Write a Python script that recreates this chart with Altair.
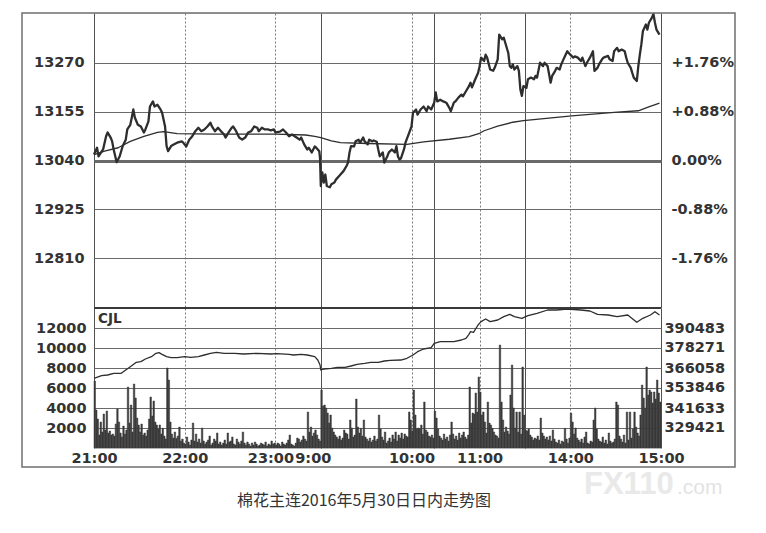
import altair as alt
import pandas as pd

# ---------------- data ----------------
# minute index: 0 = 21:00, 150 = 9:00 (night session ends 23:30), 225 = 10:15/10:30, 285 = 11:30/13:30, 375 = 15:00
price_points = [
    (0, 13054), (2, 13070), (3, 13050), (6, 13066), (8, 13097), (9, 13106), (11, 13094), (12, 13085),
    (13, 13066), (15, 13036), (17, 13050), (19, 13074), (21, 13089), (22, 13113), (24, 13124), (25, 13141),
    (26, 13160), (27, 13141), (29, 13124), (31, 13120), (33, 13106), (34, 13113), (36, 13132), (37, 13167),
    (39, 13179), (40, 13167), (42, 13171), (44, 13160), (45, 13153), (47, 13120), (48, 13074), (49, 13062),
    (51, 13074), (53, 13078), (55, 13082), (58, 13085), (59, 13082), (61, 13073), (63, 13089), (65, 13097),
    (67, 13109), (69, 13117), (71, 13109), (73, 13113), (75, 13120), (77, 13129), (78, 13120), (80, 13109),
    (82, 13117), (84, 13109), (86, 13101), (87, 13094), (89, 13106), (91, 13117), (92, 13120), (94, 13109),
    (96, 13094), (98, 13089), (100, 13094), (102, 13106), (104, 13109), (106, 13120), (108, 13117), (109, 13109),
    (111, 13117), (113, 13113), (115, 13113), (117, 13111), (119, 13113), (120, 13106), (123, 13108), (125, 13113),
    (127, 13106), (129, 13097), (131, 13101), (134, 13094), (136, 13089), (137, 13094), (139, 13078), (141, 13066),
    (142, 13070), (144, 13059), (146, 13073), (147, 13070), (149, 13062), (149.5, 13045), (150, 12980), (151, 13012),
    (152, 12988), (153, 13007), (154, 12980), (156, 12977), (157, 12984), (159, 12988), (160, 12995), (162, 13003),
    (163, 13007), (165, 13015), (167, 13027), (168, 13035), (169, 13059), (170, 13074), (172, 13073), (173, 13085),
    (175, 13089), (176, 13082), (178, 13094), (179, 13085), (181, 13078), (182, 13089), (184, 13085), (185, 13087),
    (187, 13084), (188, 13066), (189, 13050), (191, 13059), (192, 13035), (194, 13050), (195, 13059), (197, 13066),
    (199, 13059), (200, 13074), (201, 13050), (202, 13042), (203, 13045), (205, 13066), (206, 13082), (208, 13101),
    (210, 13120), (211, 13153), (213, 13160), (214, 13148), (216, 13160), (218, 13167), (220, 13156), (221, 13167),
    (223, 13160), (225, 13176), (226, 13200), (227, 13179), (229, 13183), (231, 13179), (233, 13176), (235, 13164),
    (236, 13156), (238, 13176), (239, 13179), (241, 13188), (243, 13195), (244, 13191), (246, 13203), (248, 13215),
    (249, 13223), (250, 13212), (252, 13230), (254, 13246), (255, 13261), (256, 13282), (258, 13274), (259, 13289),
    (260, 13282), (262, 13254), (264, 13251), (265, 13258), (267, 13278), (268, 13336), (270, 13325), (271, 13329),
    (272, 13317), (274, 13293), (275, 13262), (276, 13258), (277, 13266), (278, 13254), (280, 13262), (281, 13251),
    (282, 13207), (283, 13192), (284, 13215), (286, 13211), (287, 13231), (289, 13235), (291, 13231), (292, 13239),
    (293, 13235), (295, 13270), (297, 13262), (298, 13270), (300, 13262), (301, 13243), (302, 13223), (303, 13239),
    (305, 13251), (306, 13258), (308, 13254), (309, 13266), (311, 13282), (313, 13297), (315, 13289), (317, 13282),
    (318, 13285), (320, 13282), (322, 13274), (323, 13282), (325, 13262), (326, 13270), (328, 13282), (330, 13297),
    (331, 13251), (333, 13258), (334, 13266), (336, 13278), (337, 13282), (340, 13286), (341, 13278), (343, 13274),
    (344, 13297), (346, 13305), (347, 13297), (349, 13301), (351, 13297), (352, 13282), (353, 13270), (355, 13258),
    (356, 13246), (357, 13235), (359, 13227), (360, 13262), (361, 13289), (362, 13313), (363, 13344), (365, 13360),
    (366, 13348), (367, 13364), (369, 13376), (370, 13385), (371, 13364), (372, 13348), (374, 13336),
]

avg_points = [
    (0, 13054), (7, 13062), (16, 13070), (24, 13085), (33, 13097), (42, 13106), (46, 13108), (55, 13103),
    (80, 13102), (120, 13102), (140, 13100), (146, 13097), (150, 13094), (157, 13086), (163, 13082),
    (181, 13080), (207, 13078), (218, 13084), (235, 13090), (248, 13096), (255, 13104), (258, 13110),
    (267, 13121), (277, 13130), (284, 13134), (316, 13145), (344, 13153), (360, 13157), (366, 13165),
    (374, 13175),
]

oi_points = [
    (0, 359750), (5, 361375), (9, 361784), (13, 362803), (18, 362803), (21, 364837), (24, 366871),
    (28, 369521), (31, 369924), (34, 371554), (38, 372977), (41, 375017), (43, 375420), (45, 374406),
    (48, 372977), (51, 372366), (55, 372366), (60, 372977), (64, 372574), (69, 372977), (73, 373996),
    (77, 375017), (81, 375627), (86, 375017), (93, 375017), (99, 374608), (108, 375017), (117, 374608),
    (121, 374810), (129, 374406), (132, 373996), (137, 374406), (141, 373996), (146, 372977), (148, 370943),
    (149.5, 367889), (150, 364837), (152, 365447), (157, 365856), (161, 366467), (166, 366467), (170, 367279),
    (174, 368299), (179, 368910), (183, 369521), (188, 369521), (192, 370332), (196, 370741), (203, 370943),
    (207, 372000), (211, 373996), (214, 376030), (218, 377660), (223, 378473), (225, 381123), (229, 382136),
    (234, 382136), (238, 382136), (243, 383156), (246, 384176), (248, 386618), (249, 388243), (251, 387840),
    (254, 392315), (256, 394349), (259, 395979), (262, 394349), (267, 395368), (271, 397402), (275, 398831),
    (278, 397402), (283, 396388), (287, 398012), (293, 399441), (300, 401474), (306, 401474), (313, 402085),
    (322, 401474), (328, 400863), (333, 398831), (340, 398421), (346, 397402), (353, 398421), (359, 393946),
    (363, 396388), (368, 398421), (371, 400458), (374, 398421),
]

# one bar per minute, 375 minutes
volume = [
    6700, 3800, 2900, 1300, 2600, 1600, 3400, 1800, 3700, 1500, 1700, 1300, 1400, 1200, 2400,
    3900, 2600, 1500, 1100, 2200, 1400, 1800, 6100, 2500, 4300, 1600, 6400, 5000, 3000, 2300,
    1600, 2400, 1300, 1500, 1200, 1800, 2900, 5100, 3200, 4700, 2600, 2300, 1900, 2300, 1400,
    1970, 1200, 900, 8000, 6800, 2600, 1400, 1000, 1600, 970, 1200, 2100, 700, 900, 500,
    400, 1100, 600, 300, 800, 2500, 700, 1400, 600, 900, 500, 2000, 700, 400, 600,
    800, 1200, 300, 500, 900, 700, 1500, 400, 600, 300, 500, 800, 400, 1500, 600,
    700, 1100, 400, 300, 900, 600, 400, 700, 1600, 500, 300, 600, 400, 200, 500,
    300, 600, 400, 200, 300, 500, 400, 300, 600, 200, 400, 300, 700, 400, 500,
    300, 500, 400, 200, 600, 400, 300, 500, 800, 1300, 400, 300, 200, 500, 1000,
    900, 600, 800, 1200, 900, 700, 3600, 1600, 2100, 1200, 1500, 1800, 1300, 900, 700,
    5800, 4200, 4300, 4000, 3500, 2500, 3300, 2000, 1600, 1300, 1100, 900, 1200, 800, 1000,
    1800, 1500, 1400, 900, 2800, 2000, 1100, 1300, 4900, 2100, 1500, 1970, 1200, 2800, 1100,
    900, 700, 1000, 600, 800, 1200, 700, 900, 3300, 1900, 1100, 800, 1600, 500, 700,
    1000, 600, 1300, 900, 1600, 700, 1300, 1000, 1500, 900, 1400, 1200, 1100, 3600, 2800,
    1700, 5800, 3300, 1900, 2000, 1900, 2300, 1400, 4600, 1800, 1600, 1200, 1100, 1300, 1000,
    3700, 3000, 1900, 1200, 1000, 800, 1400, 900, 1100, 700, 1300, 2600, 1400, 900, 1200,
    800, 1500, 1000, 1300, 1600, 1100, 900, 1300, 6100, 2500, 3500, 3400, 5500, 3600, 7100,
    5600, 3300, 3600, 2600, 1500, 4600, 2500, 2300, 1970, 1600, 1300, 1200, 1000, 10300, 4600,
    2800, 1600, 2100, 1700, 1400, 5300, 8300, 4000, 2000, 3600, 1600, 3600, 1400, 8100, 3300,
    1800, 1700, 1900, 1300, 1100, 800, 1000, 900, 1200, 800, 3000, 1500, 1200, 900, 1100,
    800, 1200, 700, 1800, 900, 600, 500, 800, 400, 700, 600, 1970, 900, 500, 1000,
    3500, 2600, 1400, 2000, 1000, 800, 600, 900, 500, 1100, 1600, 500, 400, 700, 600,
    2800, 4000, 1900, 900, 700, 600, 1100, 500, 800, 400, 1500, 700, 500, 600, 900,
    4600, 4300, 1200, 900, 600, 1300, 500, 3600, 800, 3600, 1000, 1900, 3600, 2100, 1500,
    1200, 3300, 6300, 5000, 4000, 8100, 5300, 5800, 5600, 4500, 5600, 4900, 6800, 5500, 4600,
]

time_ticks = [0, 60, 120, 150, 210, 225, 255, 285, 315, 375]
time_labels = ["21:00", "22:00", "23:00", "9:00", "10:00", "", "11:00", "", "14:00", "15:00"]
dotted_ticks = [60, 120, 210, 255, 315]
price_ticks = [12810, 12925, 13040, 13155, 13270]
base_price = 13040
price_domain = [12693, 13387]
vol_ticks = [2000, 4000, 6000, 8000, 10000, 12000]
vol_domain = [0, 14000]
oi_ticks = [329421, 341633, 353846, 366058, 378271, 390483]
oi_domain = [317208, 402696]
panel_label = "CJL"
title_text = "棉花主连2016年5月30日日内走势图"
watermark_big = "FX110"
watermark_small = ".com"

# ---------------- styling ----------------
W, H1, H2 = 567, 295, 140
FONT = "DejaVu Sans"
TXT = "#333333"
LINE = "#2e2e2e"
GRID = "#6a6a6a"
LFS = 14.5

price_df = pd.DataFrame(price_points, columns=["t", "p"])
avg_df = pd.DataFrame(avg_points, columns=["t", "a"])
oi_df = pd.DataFrame(oi_points, columns=["t", "oi"])
vol_df = pd.DataFrame({"t": list(range(len(volume))), "v": volume})

dotted_test = "indexof([" + ",".join(str(d) for d in dotted_ticks) + "], datum.value) >= 0"
grid_dash = {"condition": {"test": dotted_test, "value": [2, 2]}, "value": []}
grid_col = {"condition": {"test": dotted_test, "value": "#7a7a7a"}, "value": "#505050"}

label_expr = " : ".join(
    f"datum.value == {t} ? '{l}'" for t, l in zip(time_ticks, time_labels)
) + " : ''"

pct_expr = (
    f"datum.value == {base_price} ? '0.00%' : "
    f"(datum.value > {base_price} ? '+' : '-') + "
    f"format(abs(datum.value - {base_price}) / {base_price} * 100, '.2f') + '%'"
)

x_scale = alt.Scale(domain=[0, 375], nice=False, zero=False)

lab = dict(labelFont=FONT, labelFontSize=LFS, labelFontWeight="bold", labelColor=TXT)

x_upper = alt.X(
    "t:Q", scale=x_scale,
    axis=alt.Axis(values=time_ticks, labels=False, ticks=False, domain=False, title=None,
                  grid=True, gridDash=grid_dash, gridColor=grid_col, gridWidth=1,
                  minExtent=0, maxExtent=0),
)

x_lower = alt.X(
    "t:Q", scale=x_scale,
    axis=alt.Axis(values=time_ticks, labelExpr=label_expr, labelFlush=False, labelOverlap=False,
                  ticks=False, domain=False, title=None, grid=True, gridDash=grid_dash,
                  gridColor=grid_col, gridWidth=1, labelPadding=3,
                  labelOffset={"condition": [{"test": "datum.value == 120", "value": -5},
                                             {"test": "datum.value == 150", "value": -8}],
                               "value": 0},
                  **lab),
)

# ---------------- upper panel ----------------
price_line = alt.Chart(price_df).mark_line(color=LINE, strokeWidth=2.3, strokeJoin="round").encode(
    x=x_upper,
    y=alt.Y("p:Q", scale=alt.Scale(domain=price_domain, nice=False, zero=False),
            axis=alt.Axis(values=price_ticks, format="d", grid=True, gridColor=GRID,
                          gridWidth={"condition": {"test": f"datum.value == {base_price}", "value": 3},
                                     "value": 1},
                          ticks=False, domain=False, title=None, labelPadding=10,
                          minExtent=80, maxExtent=80, **lab)),
)

avg_line = alt.Chart(avg_df).mark_line(color=LINE, strokeWidth=1.3, strokeJoin="round").encode(
    x=x_upper,
    y=alt.Y("a:Q", scale=alt.Scale(domain=price_domain, nice=False, zero=False),
            axis=alt.Axis(orient="right", values=price_ticks, labelExpr=pct_expr, grid=False,
                          ticks=False, domain=False, title=None, labelPadding=10,
                          minExtent=80, maxExtent=80, **lab)),
)

frame = alt.Chart(alt.Data(values=[{}])).mark_rect(
    filled=False, stroke="#6f6f6f", strokeWidth=1.5
).encode(x=alt.value(-72), x2=alt.value(641), y=alt.value(0), y2=alt.value(454))

upper = alt.layer(price_line, avg_line, frame).resolve_scale(y="independent").properties(
    width=W, height=H1
)

# ---------------- lower panel ----------------
bars = alt.Chart(vol_df).transform_calculate(t2="datum.t + 1").mark_bar(
    color="#3a3a3a", stroke="#3a3a3a", strokeWidth=0.5
).encode(
    x=x_lower,
    x2="t2:Q",
    y=alt.Y("v:Q", scale=alt.Scale(domain=vol_domain, nice=False),
            axis=alt.Axis(values=vol_ticks, format="d", grid=True, gridColor=GRID, gridWidth=1,
                          ticks=False, domain=False, title=None, labelPadding=8,
                          minExtent=80, maxExtent=80, **lab)),
    y2=alt.datum(0),
)

oi_line = alt.Chart(oi_df).mark_line(color=LINE, strokeWidth=1.3, strokeJoin="round").encode(
    x=x_lower,
    y=alt.Y("oi:Q", scale=alt.Scale(domain=oi_domain, nice=False, zero=False),
            axis=alt.Axis(orient="right", values=oi_ticks, format="d", grid=False,
                          ticks=False, domain=False, title=None, labelPadding=3,
                          minExtent=80, maxExtent=80, **lab)),
)

separator = alt.Chart(alt.Data(values=[{}])).mark_rule(
    color="#3a3a3a", strokeWidth=2
).encode(x=alt.value(0), x2=alt.value(W), y=alt.value(0))

cjl = alt.Chart(alt.Data(values=[{}])).mark_text(
    text=panel_label, align="left", baseline="middle", font=FONT, fontSize=13.5,
    fontWeight="bold", color=TXT
).encode(x=alt.value(4), y=alt.value(11))

wm1 = alt.Chart(alt.Data(values=[{}])).mark_text(
    text=watermark_big, align="left", baseline="alphabetic", font="Liberation Sans",
    fontSize=31, fontWeight="bold", color="#e9e9e9"
).encode(x=alt.value(490), y=alt.value(186))

wm2 = alt.Chart(alt.Data(values=[{}])).mark_text(
    text=watermark_small, align="left", baseline="alphabetic", font="Liberation Sans",
    fontSize=21, color="#e3e3e3"
).encode(x=alt.value(583), y=alt.value(186))

title = alt.Chart(alt.Data(values=[{}])).mark_text(
    text=title_text, align="center", baseline="middle", font="Noto Sans CJK SC",
    fontSize=16, color="#333333"
).encode(x=alt.value(270), y=alt.value(193))

lower = alt.layer(wm1, wm2, bars, oi_line, separator, cjl, title).resolve_scale(
    y="independent"
).properties(width=W, height=H2)

chart = alt.vconcat(upper, lower, spacing=0, bounds="flush").properties(
    padding={"left": 5, "top": 3, "right": 5, "bottom": 5}
).configure_view(stroke="#444444", strokeWidth=1.5).configure(background="white")

chart.save("out.html", embed_options={"renderer": "svg", "actions": False})
